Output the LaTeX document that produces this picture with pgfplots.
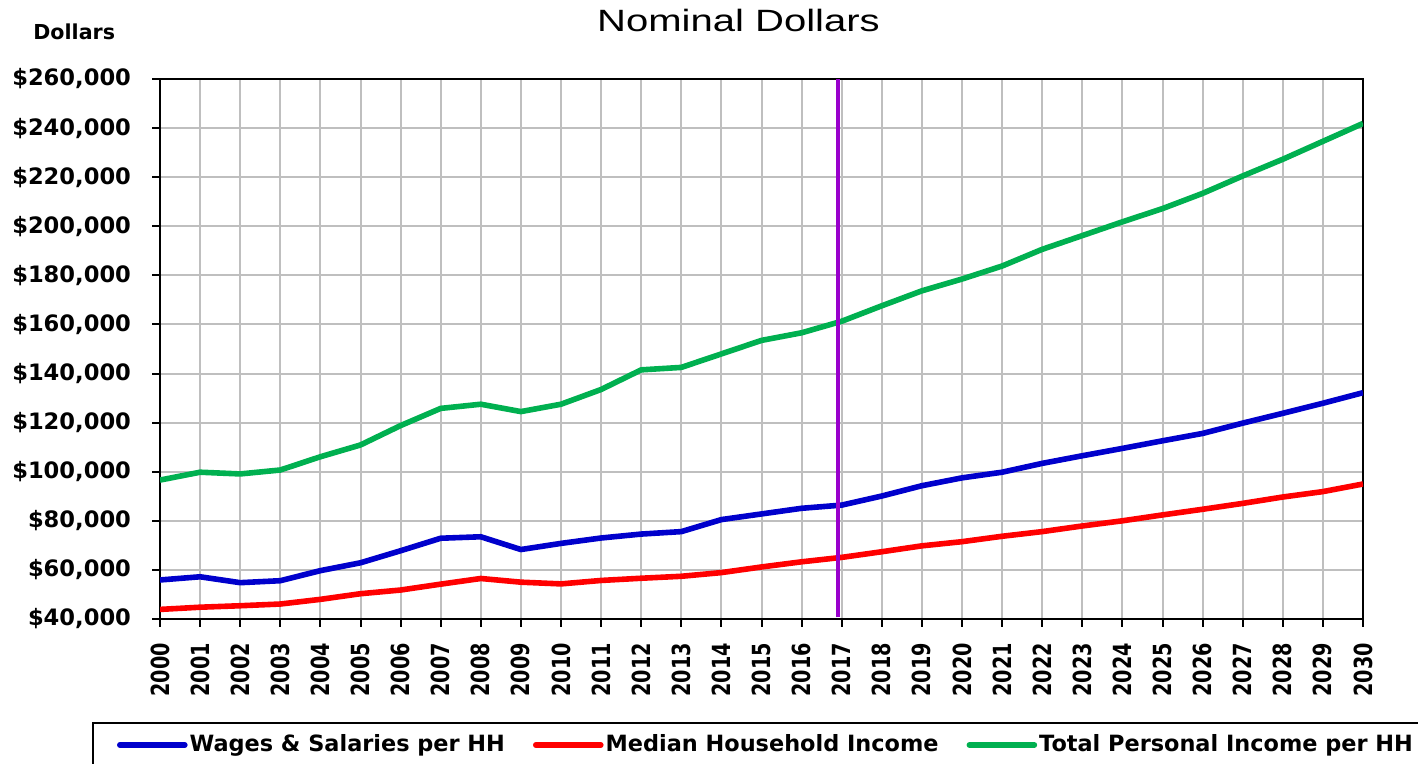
\documentclass[border=0pt]{standalone}
\usepackage{fontspec}
\setmainfont{DejaVu Sans}
\newfontfamily\titlefont{Liberation Sans}[FakeStretch=1.3]
\usepackage{graphicx}
\usepackage{pgfplots}
\usepackage{pgfplotstable}
\pgfplotsset{compat=1.18}

\definecolor{wageblue}{RGB}{0,0,204}
\definecolor{medred}{RGB}{255,0,0}
\definecolor{totgreen}{RGB}{0,176,80}
\definecolor{divpurple}{RGB}{153,0,204}
\definecolor{gridgray}{RGB}{191,191,191}

% per household income, nominal dollars
\pgfplotstableread{
year wages  median total
2000 55900  43900  96600
2001 57200  44800  99800
2002 54800  45400  99100
2003 55600  46100  100700
2004 59700  48000  106100
2005 62900  50300  110900
2006 67800  51800  118800
2007 72900  54200  125800
2008 73500  56500  127500
2009 68300  55000  124500
2010 70800  54300  127500
2011 73000  55700  133500
2012 74600  56600  141500
2013 75600  57400  142500
2014 80500  58900  148000
2015 82800  61200  153500
2016 85100  63300  156600
2017 86400  65100  161300
2018 90100  67400  167600
2019 94300  69800  173700
2020 97500  71500  178500
2021 99800  73700  183800
2022 103400 75600  190600
2023 106500 77900  196200
2024 109500 80000  201800
2025 112600 82400  207200
2026 115600 84700  213400
2027 119800 87100  220500
2028 123800 89700  227300
2029 127900 91900  234600
2030 132200 95000  241900
}\incomedata

\begin{document}
\begin{tikzpicture}
\begin{axis}[
    at={(80pt,72.5pt)}, anchor=south west,
    scale only axis,
    width=601.5pt, height=270pt,
    xmin=2000, xmax=2030,
    ymin=40000, ymax=260000,
    xtick={2000,2001,...,2030},
    ytick={40000,60000,...,260000},
    yticklabels={{\$40,000},{\$60,000},{\$80,000},{\$100,000},{\$120,000},{\$140,000},
        {\$160,000},{\$180,000},{\$200,000},{\$220,000},{\$240,000},{\$260,000}},
    scaled y ticks=false,
    /pgf/number format/assume math mode=true,
    xticklabel={\scalebox{1}[1.3]{\pgfmathprintnumber[1000 sep={}]{\tick}}},
    xticklabel style={rotate=90, anchor=east, font=\fontsize{9.6}{10}\selectfont\bfseries},
    xticklabel shift=4.5pt,
    yticklabel style={font=\fontsize{11.3}{12}\selectfont\bfseries},
    yticklabel shift=7pt,
    grid=major,
    major grid style={gridgray, line width=1pt},
    axis line style={line width=1pt},
    tick align=outside, tick pos=left,
    major tick length=4pt,
    every tick/.style={black, line width=1pt},
    legend columns=3,
    legend image code/.code={\draw[#1, line cap=round] (0pt,0pt) -- (32.5pt,0pt);},
    legend style={at={(-0.0565,-0.1907)}, anchor=north west,
        draw=black, line width=1pt,
        font=\fontsize{11.2}{13}\selectfont\bfseries,
        inner xsep=12pt, inner ysep=4pt,
        cells={anchor=west},
        nodes={inner xsep=1pt},
        /tikz/every even column/.append style={column sep=13pt}},
]
\addplot[wageblue, line width=2.8pt, line join=round] table[x=year, y=wages] {\incomedata};
\addlegendentry{Wages \& Salaries per HH}
\addplot[medred, line width=2.8pt, line join=round] table[x=year, y=median] {\incomedata};
\addlegendentry{Median Household Income}
\addplot[totgreen, line width=2.8pt, line join=round] table[x=year, y=total] {\incomedata};
\addlegendentry{Total Personal Income per HH}
\addplot[divpurple, line width=2pt, forget plot] coordinates {(2016.92,40700) (2016.92,260000)};
\end{axis}
\node[anchor=base, font=\titlefont\fontsize{15.4}{18}\selectfont] at (369.25pt,366.15pt) {Nominal Dollars};
\node[anchor=base west, inner sep=0pt, font=\fontsize{10.3}{12}\selectfont\bfseries] at (16.5pt,362pt) {Dollars};
\pgfresetboundingbox
\useasboundingbox (0,0) rectangle (709pt,382pt);
\end{tikzpicture}
\end{document}
